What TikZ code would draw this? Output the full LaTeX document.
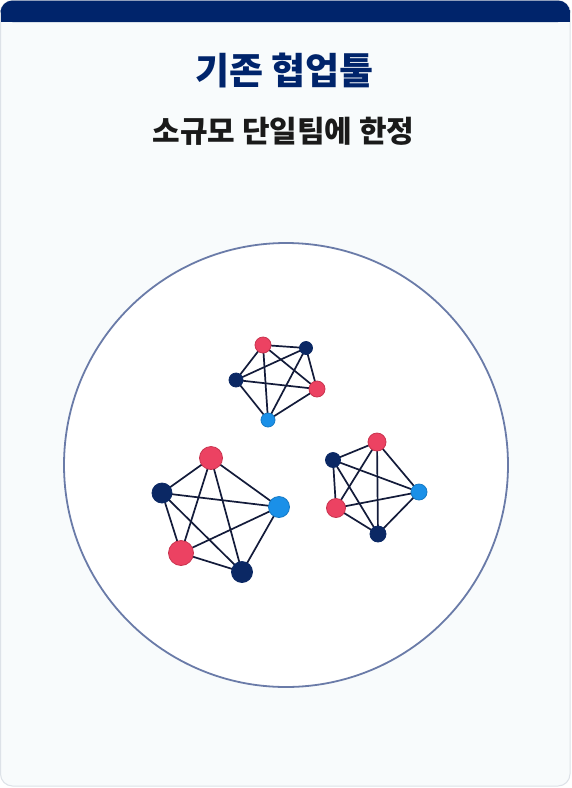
\documentclass[tikz,border=0pt]{standalone}
\usepackage{fontspec}
\usetikzlibrary{backgrounds}
\newfontfamily\kr{Noto Sans CJK KR}
\definecolor{navy}{HTML}{00246B}
\definecolor{cardbg}{HTML}{F8FBFC}
\definecolor{cardline}{HTML}{DDE2E8}
\definecolor{ringc}{HTML}{6A7BA8}
\definecolor{dotred}{HTML}{EC4262}
\definecolor{dotredline}{HTML}{C9344F}
\definecolor{dotnavy}{HTML}{0B2864}
\definecolor{dotblue}{HTML}{1A90E8}
\definecolor{edgec}{HTML}{131B3A}
\definecolor{subc}{HTML}{1A1A1A}
\pgfdeclarelayer{edges}
\pgfsetlayers{background,edges,main}
\tikzset{
  dotbase/.style={circle, inner sep=0pt, line width=0.8pt},
  rdot/.style={dotbase, fill=dotred, draw=dotredline},
  ndot/.style={dotbase, fill=dotnavy, draw=dotnavy},
  bdot/.style={dotbase, fill=dotblue, draw=dotblue!85!black},
  link/.style={draw=edgec, line width=1.7pt},
}
\begin{document}
\begin{tikzpicture}[x=1pt,y=-1pt]
\useasboundingbox (0,0) rectangle (572,788);
\begin{pgfonlayer}{background}
\fill[white] (0,0) rectangle (572,788);
% card
\draw[fill=cardbg, draw=cardline, line width=1pt, rounded corners=12pt] (0.5,0.5) rectangle (570,786);
\fill[navy, rounded corners=12pt] (0.5,22) -- (0.5,0.5) -- (570,0.5) -- (570,22) -- cycle;
\fill[navy] (0.5,12) rectangle (570,22);
% ring
\draw[draw=ringc, fill=white, line width=1.8pt] (286,465) circle[radius=222pt];
\end{pgfonlayer}
% texts
\node[font=\kr\bfseries\fontsize{37}{40}\selectfont, text=navy] (title) at (284.5,70) {기존 협업툴};
\node[font=\kr\bfseries\fontsize{30}{34}\selectfont, text=subc] (sub) at (283.5,131) {소규모 단일팀에 한정};
% small cluster
\node[rdot, minimum size=16pt] (a1) at (263,345) {};
\node[ndot, minimum size=13pt] (a2) at (306,348) {};
\node[ndot, minimum size=14pt] (a3) at (236,380) {};
\node[rdot, minimum size=16pt] (a4) at (317,389) {};
\node[bdot, minimum size=14pt] (a5) at (268,420) {};
% big cluster
\node[rdot, minimum size=23pt] (b1) at (211,458) {};
\node[ndot, minimum size=20pt] (b2) at (162,493) {};
\node[bdot, minimum size=21pt] (b3) at (279,507) {};
\node[rdot, minimum size=25pt] (b4) at (181,553) {};
\node[ndot, minimum size=21pt] (b5) at (242,572) {};
% right cluster
\node[rdot, minimum size=18pt] (c1) at (377,442) {};
\node[ndot, minimum size=15pt] (c2) at (333,460) {};
\node[bdot, minimum size=16pt] (c3) at (419,492) {};
\node[rdot, minimum size=19pt] (c4) at (336,508) {};
\node[ndot, minimum size=16pt] (c5) at (378,534) {};
\begin{pgfonlayer}{edges}
\foreach \p in {a,b,c}{
  \foreach \i/\j in {1/2,1/3,1/4,1/5,2/3,2/4,2/5,3/4,3/5,4/5}{
    \draw[link] (\p\i.center) -- (\p\j.center);
  }
}
\end{pgfonlayer}
\end{tikzpicture}
\end{document}
